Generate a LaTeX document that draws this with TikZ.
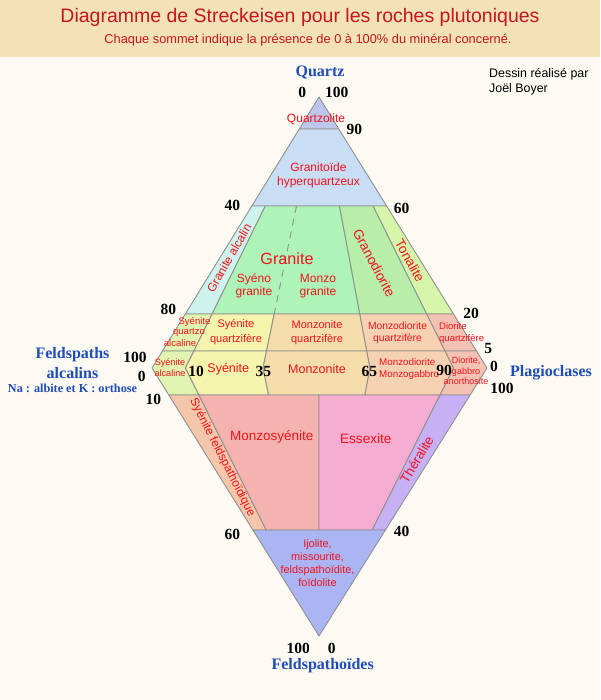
\documentclass[tikz,border=0pt]{standalone}
\usepackage{fontspec}
\setmainfont{Liberation Serif}
\setsansfont{Liberation Sans}
\definecolor{fond}{HTML}{FCFAF3}
\definecolor{bandeau}{HTML}{F2E2B6}
\definecolor{titre}{HTML}{C8141E}
\definecolor{rouge}{HTML}{F2121C}
\definecolor{bleu}{HTML}{1E4CB8}
\definecolor{trait}{HTML}{909090}
\definecolor{quartzolite}{HTML}{BDC7EB}
\definecolor{granitoide}{HTML}{C9DDF4}
\definecolor{granalc}{HTML}{CDF3EC}
\definecolor{granite}{HTML}{AEF3B8}
\definecolor{granodio}{HTML}{B9EEAA}
\definecolor{tonalite}{HTML}{D5F5A9}
\definecolor{syalc}{HTML}{E0F3B0}
\definecolor{syenite}{HTML}{F4F4AC}
\definecolor{monzonite}{HTML}{F5DCAB}
\definecolor{monzodio}{HTML}{F6D2B2}
\definecolor{diorite}{HTML}{F4C2B2}
\definecolor{syfeld}{HTML}{F5C6AA}
\definecolor{monzosy}{HTML}{F4B3AE}
\definecolor{essexite}{HTML}{F5ADD2}
\definecolor{theralite}{HTML}{C8B0F4}
\definecolor{foidolite}{HTML}{ABB5F4}
\newcommand{\taille}[2]{\fontsize{#1}{#2}\selectfont}
\begin{document}
\begin{tikzpicture}[x=1pt,y=-1pt,
    zone/.style={draw=trait,line width=0.9pt,line join=round},
    roche/.style={text=rouge,font=\sffamily\taille{12}{14.5},align=center,inner sep=0pt},
    chiffre/.style={font=\bfseries\taille{15.5}{16},inner sep=0pt},
    pole/.style={text=bleu,font=\bfseries\taille{16}{20},align=center,inner sep=0pt}]
    \fill[fond] (0,0) rectangle (600,700);
    \fill[bandeau] (0,0) rectangle (600,57);
    \useasboundingbox (0,0) rectangle (600,700);

    % titre
    \node[text=titre,font=\sffamily\taille{19.5}{22},inner sep=0pt] (titre) at (300,17) {Diagramme de Streckeisen pour les roches plutoniques};
    \node[text=titre,font=\sffamily\taille{12.8}{14},inner sep=0pt] (soustitre) at (308,40) {Chaque sommet indique la présence de 0 à 100\% du minéral concerné.};
    \node[font=\sffamily\taille{12.4}{15},align=left,inner sep=0pt,anchor=west] (auteur) at (489,81.5) {Dessin réalisé par\\Joël Boyer};

    % triangle du quartz
    \filldraw[zone,fill=quartzolite] (319,97) -- (338.8,129) -- (299.3,129) -- cycle;
    \filldraw[zone,fill=granitoide] (299.3,129) -- (338.8,129) -- (386.6,206) -- (251.8,206) -- cycle;
    \filldraw[zone,fill=granalc] (251.8,206) -- (265.3,206) -- (212.1,314) -- (185.3,314) -- cycle;
    \filldraw[zone,fill=granite] (265.3,206) -- (339.5,206) -- (359.8,314) -- (212.1,314) -- cycle;
    \filldraw[zone,fill=granodio] (339.5,206) -- (373.1,206) -- (426.7,314) -- (359.8,314) -- cycle;
    \filldraw[zone,fill=tonalite] (373.1,206) -- (386.6,206) -- (453.5,314) -- (426.7,314) -- cycle;
    \draw[trait,line width=0.9pt,dash pattern=on 7pt off 6pt] (296.5,206) -- (274.2,314);

    % quartz 5-20
    \filldraw[zone,fill=syalc] (185.3,314) -- (212.1,314) -- (193.9,351) -- (162.5,351) -- cycle;
    \filldraw[zone,fill=syenite] (212.1,314) -- (274.2,314) -- (266.5,351) -- (193.9,351) -- cycle;
    \filldraw[zone,fill=monzonite] (274.2,314) -- (359.8,314) -- (366.8,351) -- (266.5,351) -- cycle;
    \filldraw[zone,fill=monzodio] (359.8,314) -- (426.7,314) -- (445.1,351) -- (366.8,351) -- cycle;
    \filldraw[zone,fill=diorite] (426.7,314) -- (453.5,314) -- (476.5,351) -- (445.1,351) -- cycle;

    % quartz 0-5 et feldspathoides 0-10
    \filldraw[zone,fill=syalc] (162.5,351) -- (193.9,351) -- (185.5,368) -- (198.9,395) -- (168.8,395) -- (152,368) -- cycle;
    \filldraw[zone,fill=syenite] (193.9,351) -- (266.5,351) -- (263,368) -- (268.6,395) -- (198.9,395) -- (185.5,368) -- cycle;
    \filldraw[zone,fill=monzonite] (266.5,351) -- (366.8,351) -- (370,368) -- (364.9,395) -- (268.6,395) -- (263,368) -- cycle;
    \filldraw[zone,fill=monzodio] (366.8,351) -- (445.1,351) -- (453.5,368) -- (440,395) -- (364.9,395) -- (370,368) -- cycle;
    \filldraw[zone,fill=diorite] (445.1,351) -- (476.5,351) -- (487,368) -- (470.1,395) -- (440,395) -- (453.5,368) -- cycle;

    % triangle des feldspathoides
    \filldraw[zone,fill=syfeld] (168.8,395) -- (198.9,395) -- (266.2,530) -- (252.9,530) -- cycle;
    \filldraw[zone,fill=monzosy] (198.9,395) -- (319,395) -- (319,530) -- (266.2,530) -- cycle;
    \filldraw[zone,fill=essexite] (319,395) -- (440,395) -- (372.2,530) -- (319,530) -- cycle;
    \filldraw[zone,fill=theralite] (440,395) -- (470.1,395) -- (385.4,530) -- (372.2,530) -- cycle;
    \filldraw[zone,fill=foidolite] (252.9,530) -- (385.4,530) -- (319,636) -- cycle;

    % noms des roches
    \node[roche] (quartzolite) at (316,119.3) {Quartzolite};
    \node[roche] (hyperq) at (318.5,175.5) {Granitoïde\\hyperquartzeux};
    \node[roche,rotate=60] (granalc) at (229,258) {Granite alcalin};
    \node[roche,font=\sffamily\taille{16.2}{18}] (granite) at (287,259) {Granite};
    \node[roche,font=\sffamily\taille{12}{13}] (syenogr) at (254,285.8) {Syéno\\granite};
    \node[roche,font=\sffamily\taille{12}{13}] (monzogr) at (318,285.8) {Monzo\\granite};
    \node[roche,font=\sffamily\taille{13.6}{15},rotate=-62] (granodio) at (374.2,263.3) {Granodiorite};
    \node[roche,font=\sffamily\taille{13.4}{15},rotate=-61] (tonalite) at (410,260.8) {Tonalite};

    \node[roche,font=\sffamily\taille{9.5}{11}] (sqa1) at (194.5,321.5) {Syénite};
    \node[roche,font=\sffamily\taille{9.5}{11}] (sqa2) at (189,332.3) {quartzo};
    \node[roche,font=\sffamily\taille{9.5}{11}] (sqa3) at (180,343) {alcaline};
    \node[roche,font=\sffamily\taille{11}{14.3}] (syq) at (236,332) {Syénite\\quartzifère};
    \node[roche,font=\sffamily\taille{11}{14.3}] (monzq) at (317,332.5) {Monzonite\\quartzifère};
    \node[roche,font=\sffamily\taille{10.3}{12.6}] (monzodq) at (397.5,333) {Monzodiorite\\quartzifère};
    \node[roche,font=\sffamily\taille{9.5}{12},align=left,anchor=west] (dioq) at (439,333) {Diorite\\quartzifère};

    \node[roche,font=\sffamily\taille{9.1}{11}] (syalc) at (170,367.5) {Syénite\\alcaline};
    \node[roche,font=\sffamily\taille{12.5}{14}] (syenite) at (228.3,369) {Syénite};
    \node[roche,font=\sffamily\taille{12.5}{14}] (monzonite) at (317,369) {Monzonite};
    \node[roche,font=\sffamily\taille{9.8}{11.7},align=left,anchor=west] (monzodio) at (379,369.2) {Monzodiorite\\Monzogabbro};
    \node[roche,font=\sffamily\taille{9}{10.3}] (diorite) at (466,371) {Diorite,\\gabbro\\anorthosite};

    \node[roche,font=\sffamily\taille{11.9}{13},rotate=-63] (syfeld) at (222.3,457.5) {Syénite feldspathoïdique};
    \node[roche,font=\sffamily\taille{13.5}{15}] (monzosy) at (271.7,436.7) {Monzosyénite};
    \node[roche,font=\sffamily\taille{13.6}{15}] (essexite) at (365.8,438.3) {Essexite};
    \node[roche,font=\sffamily\taille{13.4}{15},rotate=59] (theralite) at (416.7,459.5) {Théralite};
    \node[roche,font=\sffamily\taille{10.9}{13.1}] (foidolite) at (317.5,563) {Ijolite,\\missourite,\\feldspathoïdite,\\foïdolite};

    % pourcentages
    \node[chiffre] (q0) at (302.3,92.3) {0};
    \node[chiffre] (q100) at (336.7,92) {100};
    \node[chiffre] (q90) at (354.3,129.3) {90};
    \node[chiffre] (q40) at (232.3,205) {40};
    \node[chiffre] (q60) at (401.7,208.3) {60};
    \node[chiffre] (q80) at (168.3,309.3) {80};
    \node[chiffre] (q20) at (471,313) {20};
    \node[chiffre] (q5) at (488.3,348.3) {5};
    \node[chiffre] (p0) at (494,366.7) {0};
    \node[chiffre] (p100) at (502,388) {100};
    \node[chiffre] (a100) at (135,357.3) {100};
    \node[chiffre] (a0) at (141.7,376.7) {0};
    \node[chiffre] (f10) at (153.3,399.3) {10};
    \node[chiffre] (r10) at (196,371.5) {10};
    \node[chiffre] (r35) at (263.3,371) {35};
    \node[chiffre] (r65) at (369.3,371) {65};
    \node[chiffre] (r90) at (444,370) {90};
    \node[chiffre] (f60) at (232.3,534) {60};
    \node[chiffre] (f40) at (401.7,531.7) {40};
    \node[chiffre] (f100) at (298.3,648.3) {100};
    \node[chiffre] (f0) at (331.7,648.3) {0};

    % sommets
    \node[pole] (quartz) at (320,72.7) {Quartz};
    \node[pole] (feldalc) at (72.5,363.3) {Feldspaths\\alcalins};
    \node[text=bleu,font=\bfseries\taille{12.2}{14},inner sep=0pt] (naK) at (72.5,388.3) {Na : albite et K : orthose};
    \node[pole] (plagio) at (551,373) {Plagioclases};
    \node[pole] (foides) at (322.7,666) {Feldspathoïdes};
\end{tikzpicture}
\end{document}
